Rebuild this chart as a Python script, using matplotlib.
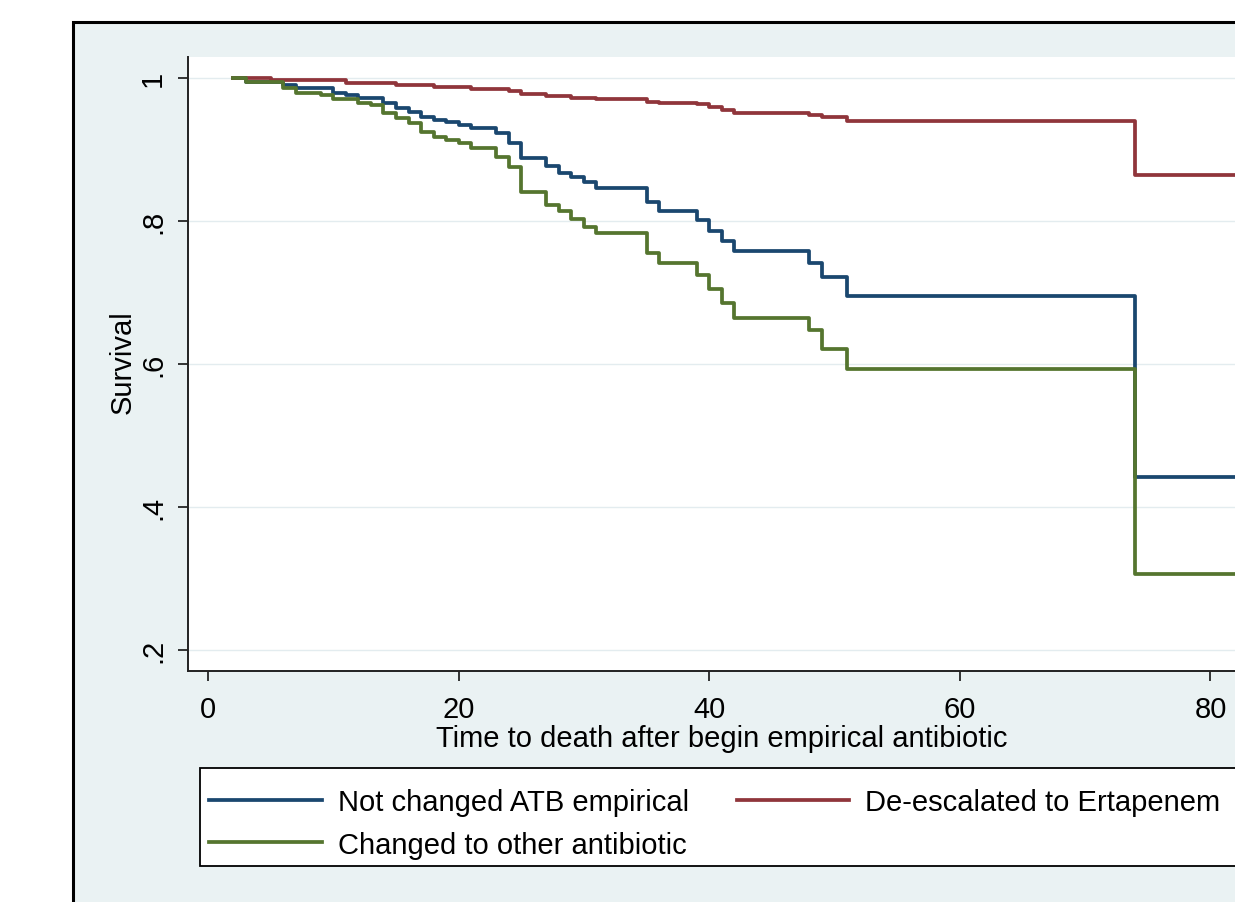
# Kaplan-Meier kurvor, återskapade från bilden
import numpy as np
import matplotlib
matplotlib.use('Agg')
import matplotlib.pyplot as plt
from matplotlib.patches import Rectangle
from matplotlib.lines import Line2D

plt.rcParams['font.family'] = ['Liberation Sans', 'DejaVu Sans']

# tid (dagar) och överlevnad efter varje steg
tid_ej_bytt = [2, 3, 6, 7, 10, 11, 12, 14, 15, 16, 17, 18, 19, 20, 21, 23, 24,
               25, 27, 28, 29, 30, 31, 35, 36, 39, 40, 41, 42, 48, 49, 51, 74]
surv_ej_bytt = [1.0, 0.995, 0.990, 0.986, 0.979, 0.976, 0.972, 0.965, 0.958,
                0.953, 0.946, 0.941, 0.938, 0.934, 0.930, 0.923, 0.909, 0.888,
                0.877, 0.867, 0.862, 0.854, 0.846, 0.826, 0.814, 0.801, 0.786,
                0.772, 0.758, 0.741, 0.722, 0.695, 0.442]

tid_ertapenem = [2, 5, 11, 15, 18, 21, 24, 25, 27, 29, 31, 35, 36, 39, 40, 41,
                 42, 48, 49, 51, 74]
surv_ertapenem = [1.0, 0.997, 0.993, 0.990, 0.988, 0.985, 0.982, 0.978, 0.975,
                  0.972, 0.970, 0.967, 0.965, 0.963, 0.960, 0.955, 0.951, 0.948,
                  0.945, 0.940, 0.864]

tid_annat = [2, 3, 6, 7, 9, 10, 12, 13, 14, 15, 16, 17, 18, 19, 20, 21, 23, 24,
             25, 27, 28, 29, 30, 31, 35, 36, 39, 40, 41, 42, 48, 49, 51, 74]
surv_annat = [1.0, 0.995, 0.986, 0.979, 0.976, 0.970, 0.965, 0.962, 0.951,
              0.944, 0.937, 0.925, 0.918, 0.913, 0.909, 0.902, 0.890, 0.875,
              0.840, 0.822, 0.814, 0.803, 0.791, 0.783, 0.755, 0.741, 0.724,
              0.705, 0.685, 0.665, 0.647, 0.621, 0.593, 0.306]

etiketter = ['Not changed ATB empirical', 'De-escalated to Ertapenem',
             'Changed to other antibiotic']
x_ticks = [0, 20, 40, 60, 80]
y_ticks = [0.2, 0.4, 0.6, 0.8, 1.0]
y_tick_etiketter = ['.2', '.4', '.6', '.8', '1']

# färger i Stata s2color
blå = '#1A476F'
röd = '#90353B'
grön = '#55752F'
bakgrund = '#EAF2F3'

W, H = 1235, 903
def fx(px):
    return px / W
def fy(py):
    return 1 - py / H

fig = plt.figure(figsize=(W / 100, H / 100), dpi=100, facecolor='white')

# yttre ram med ljusblå bakgrund
fig.patches.append(Rectangle((fx(73), fy(960)), fx(1300) - fx(73), fy(23) - fy(960),
                             transform=fig.transFigure, facecolor=bakgrund,
                             edgecolor='black', lw=2.2, zorder=-1))

ax = fig.add_axes([fx(188), fy(672), fx(1235) - fx(188), fy(58) - fy(672)])
ax.set_facecolor('white')

slut = 90  # kurvorna fortsätter utanför bilden
for t, s, c in [(tid_ej_bytt, surv_ej_bytt, blå),
                (tid_ertapenem, surv_ertapenem, röd),
                (tid_annat, surv_annat, grön)]:
    ax.step(np.append(t, slut), np.append(s, s[-1]), where='post',
            color=c, lw=2.7, zorder=3)

ax.set_xlim(-1.6, 81.96)
ax.set_ylim(0.1706, 1.0294)

ax.set_xticks(x_ticks)
ax.set_yticks(y_ticks)
ax.set_yticklabels(y_tick_etiketter)
plt.setp(ax.get_yticklabels(), rotation=90, va='center')
ax.tick_params(axis='both', direction='out', length=7.2, width=1.1,
               labelsize=21, colors='black')
ax.tick_params(axis='x', pad=10)
ax.tick_params(axis='y', pad=8)

ax.grid(axis='y', color='#E3ECEF', lw=1.0, zorder=1)
ax.set_axisbelow(True)
for sida in ['top', 'right']:
    ax.spines[sida].set_visible(False)
for sida in ['left', 'bottom']:
    ax.spines[sida].set_linewidth(1.4)
    ax.spines[sida].set_color('#222222')

fig.text(fx(722), fy(747), 'Time to death after begin empirical antibiotic',
         ha='center', va='baseline', fontsize=21)
fig.text(fx(123), fy(362), 'Survival', rotation=90, ha='center', va='center',
         fontsize=21)

# legend med egen ram som går ut ur bilden
fig.patches.append(Rectangle((fx(200), fy(867)), fx(1300) - fx(200), fy(769) - fy(867),
                             transform=fig.transFigure, facecolor='white',
                             edgecolor='black', lw=1.3, zorder=1))
handtag = [Line2D([], [], color=blå, lw=2.7),
           Line2D([], [], color=grön, lw=2.7),
           Line2D([], [], color=röd, lw=2.7)]
fig.legend(handtag, [etiketter[0], etiketter[2], etiketter[1]], ncol=2,
           loc='upper left', bbox_to_anchor=(fx(202), fy(782)),
           frameon=False, fontsize=21, handlelength=3.85, handletextpad=0.55,
           columnspacing=1.64, labelspacing=0.49, borderpad=0.25,
           borderaxespad=0)

fig.savefig('out.png', dpi=100)
